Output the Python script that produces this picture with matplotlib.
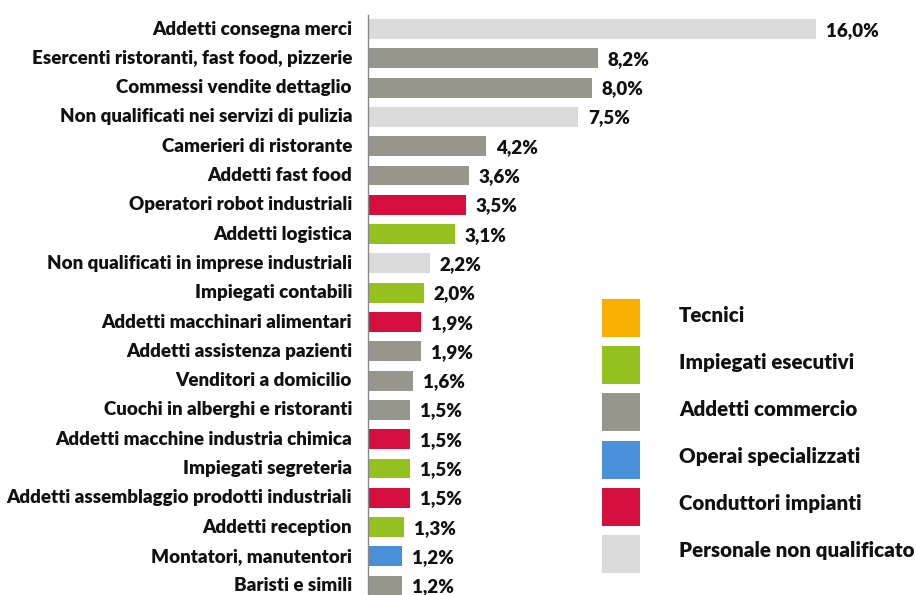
import matplotlib
matplotlib.use("Agg")
import matplotlib.pyplot as plt
from matplotlib.patches import Rectangle

# ----------------------------
# Data
# ----------------------------
labels = [
    "Addetti consegna merci",
    "Esercenti ristoranti, fast food, pizzerie",
    "Commessi vendite dettaglio",
    "Non qualificati nei servizi di pulizia",
    "Camerieri di ristorante",
    "Addetti fast food",
    "Operatori robot industriali",
    "Addetti logistica",
    "Non qualificati in imprese industriali",
    "Impiegati contabili",
    "Addetti macchinari alimentari",
    "Addetti assistenza pazienti",
    "Venditori a domicilio",
    "Cuochi in alberghi e ristoranti",
    "Addetti macchine industria chimica",
    "Impiegati segreteria",
    "Addetti assemblaggio prodotti industriali",
    "Addetti reception",
    "Montatori, manutentori",
    "Baristi e simili",
]
values = [16.0, 8.2, 8.0, 7.5, 4.2, 3.6, 3.5, 3.1, 2.2, 2.0,
          1.9, 1.9, 1.6, 1.5, 1.5, 1.5, 1.5, 1.3, 1.2, 1.2]
groups = ["nonqual", "commercio", "commercio", "nonqual", "commercio",
          "commercio", "conduttori", "impiegati", "nonqual", "impiegati",
          "conduttori", "commercio", "commercio", "commercio", "conduttori",
          "impiegati", "conduttori", "impiegati", "operai", "commercio"]

legend_keys = ["tecnici", "impiegati", "commercio", "operai", "conduttori", "nonqual"]
legend_names = ["Tecnici", "Impiegati esecutivi", "Addetti commercio",
                "Operai specializzati", "Conduttori impianti", "Personale non qualificato"]

colors = {
    "tecnici": "#F8AF00",
    "impiegati": "#95C11F",
    "commercio": "#97968D",
    "operai": "#4A90D9",
    "conduttori": "#D6103E",
    "nonqual": "#DADADA",
}

FONT = "Lato"
WEIGHT = "heavy"
FS_LAB = 13.5
FS_VAL = 13.5
FS_LEG = 14.8

W, H = 916, 595
fig = plt.figure(figsize=(W / 100, H / 100), dpi=100)

# axes spans from the axis line (x=368px) to the right edge
ax_left, ax_top = 368, 15
ax = fig.add_axes([ax_left / W, 0, (W - ax_left) / W, (H - ax_top) / H])
px_per_unit = 28.0
row_px = 29.3
first_row = 29
ax.set_xlim(0, (W - ax_left) / px_per_unit)
ax.set_ylim((H - first_row) / row_px, -(first_row - ax_top) / row_px)

ypos = list(range(len(values)))
ax.barh(ypos, values, height=0.68, color=[colors[g] for g in groups], zorder=2)

for y, v, lab in zip(ypos, values, labels):
    ax.text(v + 10 / px_per_unit, y + 0.04, f"{v:.1f}%".replace(".", ","),
            va="center", ha="left", fontsize=FS_VAL, fontweight=WEIGHT,
            family=FONT, color="#111111")
    ax.text(-16 / px_per_unit, y, lab, va="center", ha="right", fontsize=FS_LAB,
            fontweight=WEIGHT, family=FONT, color="#111111", clip_on=False)

for s in ["top", "right", "bottom"]:
    ax.spines[s].set_visible(False)
ax.spines["left"].set_color("#888888")
ax.spines["left"].set_linewidth(1.0)
ax.set_xticks([])
ax.set_yticks([])
ax.patch.set_alpha(0)

# legend, drawn in pixel space
for i, (k, name) in enumerate(zip(legend_keys, legend_names)):
    top = 299 + i * 47.2
    fig.add_artist(Rectangle((602 / W, 1 - (top + 38) / H), 38 / W, 38 / H,
                             transform=fig.transFigure, color=colors[k], lw=0))
    fig.text(679 / W, 1 - (top + 16) / H, name, va="center", ha="left",
             fontsize=FS_LEG, fontweight=WEIGHT, family=FONT, color="#111111")

fig.savefig("out.png", dpi=100)
